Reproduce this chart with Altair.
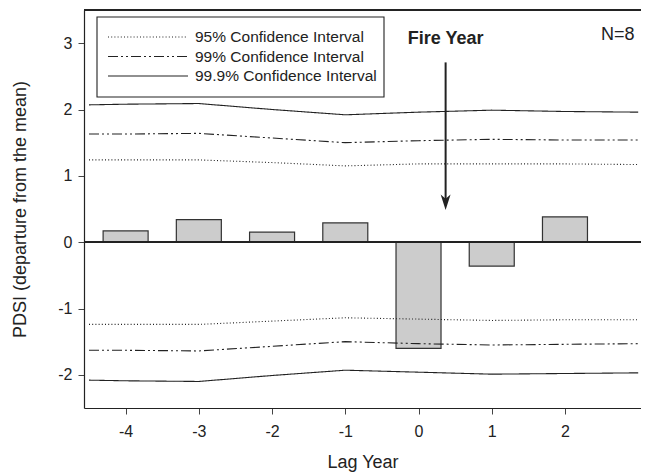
import altair as alt
import pandas as pd

# ---- data ----
lag_years = [-4, -3, -2, -1, 0, 1, 2]
pdsi = [0.17, 0.34, 0.15, 0.29, -1.60, -0.36, 0.38]

ci_lags = [-4.5, -4, -3, -2, -1, 0, 1, 2, 3]
ci95_up = [1.24, 1.24, 1.24, 1.20, 1.15, 1.18, 1.18, 1.18, 1.17]
ci95_lo = [-1.24, -1.24, -1.24, -1.19, -1.14, -1.16, -1.18, -1.17, -1.17]
ci99_up = [1.63, 1.63, 1.64, 1.57, 1.50, 1.53, 1.55, 1.54, 1.54]
ci99_lo = [-1.63, -1.63, -1.64, -1.57, -1.50, -1.53, -1.55, -1.54, -1.53]
ci999_up = [2.07, 2.08, 2.09, 2.00, 1.92, 1.96, 1.99, 1.97, 1.96]
ci999_lo = [-2.08, -2.09, -2.10, -2.01, -1.93, -1.96, -1.99, -1.98, -1.97]

levels = ["95% Confidence Interval", "99% Confidence Interval", "99.9% Confidence Interval"]
y_ticks = [-2, -1, 0, 1, 2, 3]

fire_year_x = 0.37
fire_arrow_top = 2.71
fire_arrow_head = 0.59
fire_label_y = 3.07
n_label = "N=8"
n_label_x = 2.95
n_label_y = 3.12

FONT = "Liberation Sans"
INK = "#222222"
X_DOMAIN = [-4.5, 2.97]
Y_DOMAIN = [-2.5, 3.5]
DASHES = [[1, 2.2], [10, 3, 2, 3, 2, 3], [1, 0]]

bars_df = pd.DataFrame({"lag": lag_years, "pdsi": pdsi})

rows = []
for lvl, up, lo in [(levels[0], ci95_up, ci95_lo), (levels[1], ci99_up, ci99_lo), (levels[2], ci999_up, ci999_lo)]:
    for x, u, l in zip(ci_lags, up, lo):
        rows.append({"lag": x, "v": u, "level": lvl, "bound": "up"})
        rows.append({"lag": x, "v": l, "level": lvl, "bound": "lo"})
ci_df = pd.DataFrame(rows)

xs = alt.Scale(domain=X_DOMAIN, nice=False, zero=False)
ys = alt.Scale(domain=Y_DOMAIN, nice=False, zero=False)

x_axis = alt.Axis(values=lag_years, title="Lag Year", labelExpr="'' + datum.value", grid=False,
                  tickSize=6, labelPadding=9, titlePadding=14)
y_axis = alt.Axis(values=y_ticks, title="PDSI (departure from the mean)",
                  labelExpr="'' + datum.value", grid=False, tickSize=6, labelPadding=6, titlePadding=28)

bars = alt.Chart(bars_df).mark_bar(size=45, color="#cccccc", stroke="#333333", strokeWidth=1.2).encode(
    x=alt.X("lag:Q", scale=xs, axis=x_axis),
    y=alt.Y("pdsi:Q", scale=ys, axis=y_axis),
)

lines = alt.Chart(ci_df).mark_line(color=INK, strokeWidth=1.1, clip=True).encode(
    x=alt.X("lag:Q", scale=xs),
    y=alt.Y("v:Q", scale=ys),
    detail="bound:N",
    strokeDash=alt.StrokeDash("level:N", scale=alt.Scale(domain=levels, range=DASHES), legend=None),
)

zero_rule = alt.Chart(bars_df).mark_rule(color=INK, strokeWidth=1.2).encode(y=alt.datum(0))
top_rule = alt.Chart(bars_df).mark_rule(color=INK, strokeWidth=1.2).encode(y=alt.datum(Y_DOMAIN[1]))

arrow_df = pd.DataFrame({"x": [fire_year_x], "y": [fire_arrow_top], "y2": [fire_arrow_head + 0.05],
                         "yh": [fire_arrow_head], "ly": [fire_label_y]})
arrow_line = alt.Chart(arrow_df).mark_rule(color=INK, strokeWidth=2).encode(
    x=alt.X("x:Q", scale=xs), y=alt.Y("y:Q", scale=ys), y2="y2:Q")
arrow_head = alt.Chart(arrow_df).mark_point(
    shape="M-0.7,-1.2L0,1L0.7,-1.2L0,-0.6Z", filled=True, color=INK, size=200, opacity=1
).encode(x=alt.X("x:Q", scale=xs), y=alt.Y("yh:Q", scale=ys))
fire_text = alt.Chart(arrow_df).mark_text(
    text="Fire Year", font=FONT, fontSize=18, fontWeight="bold", color=INK, baseline="middle"
).encode(x=alt.X("x:Q", scale=xs), y=alt.Y("ly:Q", scale=ys))

n_df = pd.DataFrame({"x": [n_label_x], "y": [n_label_y], "t": [n_label]})
n_text = alt.Chart(n_df).mark_text(font=FONT, fontSize=18, color=INK, align="right", baseline="middle").encode(
    x=alt.X("x:Q", scale=xs), y=alt.Y("y:Q", scale=ys), text="t:N")

# ---- legend box (drawn as annotation, in pixel space of the plot) ----
one = pd.DataFrame({"k": [0]})
legend_box = alt.Chart(one).mark_rect(fill="white", stroke=INK, strokeWidth=1.1).encode(
    x=alt.value(13), x2=alt.value(300), y=alt.value(7), y2=alt.value(87))
legend_layers = [legend_box]
for i, lvl in enumerate(levels):
    yy = 27 + i * 19.5
    legend_layers.append(
        alt.Chart(one).mark_rule(color=INK, strokeWidth=1.1, strokeDash=DASHES[i]).encode(
            x=alt.value(24), x2=alt.value(104), y=alt.value(yy)))
    legend_layers.append(
        alt.Chart(one).mark_text(text=lvl, font=FONT, fontSize=15.5, color=INK, align="left",
                                 baseline="middle").encode(x=alt.value(111), y=alt.value(yy)))

chart = alt.layer(bars, lines, zero_rule, top_rule, arrow_line, arrow_head, fire_text, n_text,
                  *legend_layers).properties(
    width=557, height=398,
    autosize=alt.AutoSizeParams(type="none"),
    padding={"left": 76, "top": 2, "right": 0, "bottom": 66},
).configure_view(stroke=None).configure_axis(
    labelFont=FONT, titleFont=FONT, labelFontSize=16, titleFontSize=18,
    labelColor=INK, titleColor=INK, titleFontWeight="normal",
    domainColor=INK, tickColor="#444444", domainWidth=1.2,
)

chart.save("out.html", embed_options={"renderer": "svg", "actions": False})
